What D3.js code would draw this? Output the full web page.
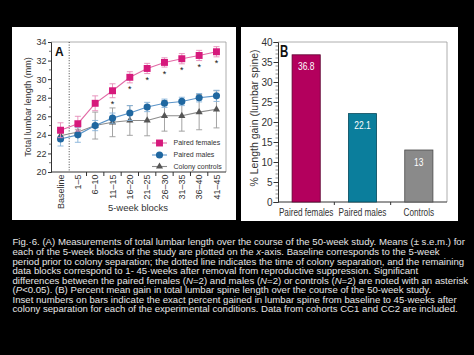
<!DOCTYPE html>
<html><head><meta charset="utf-8">
<script src="https://cdn.jsdelivr.net/npm/d3@7"></script>
<style>
html,body{margin:0;padding:0;background:#000;}
svg{display:block;font-family:"Liberation Sans",Arial,Helvetica,sans-serif;}
</style></head>
<body><svg id="chart" width="474" height="355"></svg>
<script>
// ---------- DATA ----------
const blocks = ["Baseline","1\u20135","6\u201310","11\u201315","16\u201320","21\u201325","26\u201330","31\u201335","36\u201340","41\u201345"];
const femalesMean = [24.5,25.2,27.4,28.75,30.2,31.15,31.8,32.2,32.55,32.95];
const femalesSem  = [0.8,0.8,0.8,0.75,0.6,0.55,0.5,0.55,0.55,0.55];
const malesMean   = [23.55,24.0,25.0,25.8,26.35,27.0,27.4,27.6,28.0,28.2];
const malesSem    = [0.75,0.8,0.55,0.55,0.8,0.5,0.45,0.45,0.45,0.6];
const controlsMean= [23.9,24.3,25.0,25.35,25.55,25.55,26.05,26.05,26.45,26.75];
const controlsSem = [0.3,0.3,1.45,1.55,1.6,1.65,1.65,1.65,1.9,2.0];
const significant = [false,false,false,true,true,true,true,true,true,true];
const yTicksA = [20,22,24,26,28,30,32,34];
const seriesNames = ["Paired females","Paired males","Colony controls"];
const xTitleA = "5-week blocks";
const yTitleA = "Total lumbar length (mm)";

const barGroups = ["Paired females","Paired males","Controls"];
const barValues = [36.8,22.1,13];
const barLabels = ["36.8","22.1","13"];
const yTicksB = [0,5,10,15,20,25,30,35,40];
const yTitleB = "% Length gain (lumbar spine)";

const captionLines = [
  [["Fig.\u00b76. (A) Measurements of total lumbar length over the course of the 50-week study. Means (\u00b1 s.e.m.) for",false]],
  [["each of the 5-week blocks of the study are plotted on the ",false],["x",true],["-axis. Baseline corresponds to the 5-week",false]],
  [["period prior to colony separation; the dotted line indicates the time of colony separation, and the remaining",false]],
  [["data blocks correspond to 1- 45\u00b7weeks after removal from reproductive suppression. Significant",false]],
  [["differences between the paired females (",false],["N",true],["=2) and males (",false],["N",true],["=2) or controls (",false],["N",true],["=2) are noted with an asterisk",false]],
  [["(",false],["P",true],["<0.05). (B) Percent mean gain in total lumbar spine length over the course of the 50-week study.",false]],
  [["Inset numbers on bars indicate the exact percent gained in lumbar spine from baseline to 45\u00b7weeks after",false]],
  [["colony separation for each of the experimental conditions. Data from cohorts CC1 and CC2 are included.",false]]
];

// ---------- STYLE ----------
const femaleCol = {marker:"#d6197c", line:"#e26aa6", err:"#e58ab8"};
const maleCol   = {marker:"#1f67a0", line:"#5b94c8", err:"#86b2d9"};
const ctrlCol   = {marker:"#555555", line:"#8c8c8c", err:"#9a9a9a"};
const barFill   = ["#b3005d","#0b7e9c","#8a8a8a"];
const barStroke = ["#5e0030","#05495b","#4a4a4a"];

const svg = d3.select("#chart");
svg.append("rect").attr("width",474).attr("height",355).attr("fill","#000");

// ---------- PANEL A ----------
svg.append("rect").attr("x",12).attr("y",27).attr("width",224).attr("height",193).attr("fill","#fff");
const xA = d3.scalePoint().domain(blocks).range([51,226]).padding(0.55);
const yA = d3.scaleLinear().domain([20,34]).range([172,42]);
const gA = svg.append("g");

// frame (top, right)
gA.append("path").attr("d",`M51,42H226V172`).attr("fill","none").attr("stroke","#9a9a9a").attr("stroke-width",0.8);

// y axis
const yAxisA = d3.axisLeft(yA).tickValues(yTicksA).tickSize(3).tickPadding(1.5).tickFormat(d3.format("d"));
const gyA = gA.append("g").attr("transform","translate(51,0)").call(yAxisA);
gyA.select(".domain").attr("stroke","#333");
gyA.selectAll(".tick line").attr("stroke","#333");
gyA.selectAll(".tick text").attr("font-size",9).attr("fill","#333");
// minor ticks
gA.append("g").selectAll("line").data(d3.range(21,34,2)).join("line")
  .attr("x1",49).attr("x2",51).attr("y1",d=>yA(d)).attr("y2",d=>yA(d)).attr("stroke","#333").attr("stroke-width",0.7);

// x axis
gA.append("line").attr("x1",51).attr("x2",226).attr("y1",172).attr("y2",172).attr("stroke","#333");
const bounds = blocks.slice(1).map((b,i)=>(xA(blocks[i])+xA(b))/2);
gA.append("g").selectAll("line").data(bounds.slice(1)).join("line")
  .attr("x1",d=>d).attr("x2",d=>d).attr("y1",172).attr("y2",176).attr("stroke","#333");
// dotted separation line
gA.append("line").attr("x1",bounds[0]).attr("x2",bounds[0]).attr("y1",42).attr("y2",172)
  .attr("stroke","#333").attr("stroke-dasharray","1,1.6").attr("stroke-width",0.9);
// x tick labels
gA.append("g").selectAll("text").data(blocks).join("text")
  .attr("transform",d=>`translate(${xA(d)+3.2},174.5) rotate(-90)`)
  .attr("text-anchor","end").attr("font-size",9).attr("fill","#333").text(d=>d);
// titles
gA.append("text").attr("x",138).attr("y",211).attr("text-anchor","middle").attr("font-size",9.5).attr("fill","#333").text(xTitleA);
gA.append("text").attr("transform","translate(30.5,107) rotate(-90)").attr("text-anchor","middle").attr("font-size",9).attr("fill","#333").text(yTitleA);
gA.append("text").attr("x",55).attr("y",55.5).attr("font-size",12).attr("font-weight","bold").attr("fill","#111").text("A");

// series
const series = [
  {name:seriesNames[0], mean:femalesMean, sem:femalesSem, col:femaleCol, sym:d3.symbolSquare, size:48},
  {name:seriesNames[1], mean:malesMean, sem:malesSem, col:maleCol, sym:d3.symbolCircle, size:40},
  {name:seriesNames[2], mean:controlsMean, sem:controlsSem, col:ctrlCol, sym:d3.symbolTriangle, size:22}
];
const drawOrder = [2,1,0];
drawOrder.forEach(si=>{
  const s = series[si];
  const g = gA.append("g");
  // error bars
  blocks.forEach((b,i)=>{
    const x = xA(b), y1 = yA(s.mean[i]+s.sem[i]), y2 = yA(s.mean[i]-s.sem[i]);
    g.append("line").attr("x1",x).attr("x2",x).attr("y1",y1).attr("y2",y2).attr("stroke",s.col.err).attr("stroke-width",0.9);
    [y1,y2].forEach(y=>g.append("line").attr("x1",x-3).attr("x2",x+3).attr("y1",y).attr("y2",y).attr("stroke",s.col.err).attr("stroke-width",0.9));
  });
  g.append("path").datum(s.mean).attr("fill","none").attr("stroke",s.col.line).attr("stroke-width",1.1)
    .attr("d",d3.line().x((d,i)=>xA(blocks[i])).y(d=>yA(d)));
  g.selectAll("path.m").data(s.mean).join("path").attr("class","m")
    .attr("transform",(d,i)=>`translate(${xA(blocks[i])},${yA(d)})`)
    .attr("d",d3.symbol().type(s.sym).size(s.size)).attr("fill",s.col.marker);
});
// asterisks
gA.append("g").selectAll("text").data(blocks.filter((b,i)=>significant[i])).join("text")
  .attr("x",d=>xA(d)).attr("y",d=>{const i=blocks.indexOf(d);return yA(femalesMean[i]-femalesSem[i])+9.5;})
  .attr("text-anchor","middle").attr("font-size",9).attr("fill","#111").text("*");

// legend
const legY = [143,155,166.5];
series.forEach((s,i)=>{
  const g = gA.append("g");
  g.append("line").attr("x1",152).attr("x2",167).attr("y1",legY[i]).attr("y2",legY[i]).attr("stroke",s.col.line).attr("stroke-width",1.1);
  g.append("path").attr("transform",`translate(159.5,${legY[i]})`).attr("d",d3.symbol().type(s.sym).size(s.size)).attr("fill",s.col.marker);
  g.append("text").attr("x",173.5).attr("y",legY[i]+2.4).attr("font-size",7).attr("fill","#333").text(s.name);
});

// ---------- PANEL B ----------
svg.append("rect").attr("x",241).attr("y",27).attr("width",217).attr("height",194).attr("fill","#fff");
const xB = d3.scaleBand().domain(barGroups).range([278,447]).paddingInner(0.5).paddingOuter(0.25);
const yB = d3.scaleLinear().domain([0,40]).range([202,42]);
const gB = svg.append("g");
gB.append("path").attr("d",`M278,42H447V202`).attr("fill","none").attr("stroke","#9a9a9a").attr("stroke-width",0.8);
// minor ticks
gB.append("g").selectAll("line").data(d3.range(0,41,1).filter(d=>d%5!==0)).join("line")
  .attr("x1",275.5).attr("x2",278).attr("y1",d=>yB(d)).attr("y2",d=>yB(d)).attr("stroke","#444").attr("stroke-width",0.6);
const yAxisB = d3.axisLeft(yB).tickValues(yTicksB).tickSize(4.5).tickPadding(1).tickFormat(d3.format("d"));
const gyB = gB.append("g").attr("transform","translate(278,0)").call(yAxisB);
gyB.select(".domain").attr("stroke","#333");
gyB.selectAll(".tick line").attr("stroke","#333");
gyB.selectAll(".tick text").attr("font-size",10).attr("fill","#333");
// x axis
gB.append("line").attr("x1",278).attr("x2",447).attr("y1",202).attr("y2",202).attr("stroke","#333");
const bBounds = barGroups.slice(1).map(g=>xB(g)-xB.step()*xB.paddingInner()/2);
gB.append("g").selectAll("line").data(bBounds).join("line")
  .attr("x1",d=>d).attr("x2",d=>d).attr("y1",202).attr("y2",205).attr("stroke","#333");
// bars
gB.append("g").selectAll("rect").data(barValues).join("rect")
  .attr("x",(d,i)=>xB(barGroups[i])).attr("width",xB.bandwidth())
  .attr("y",d=>yB(d)).attr("height",d=>yB(0)-yB(d))
  .attr("fill",(d,i)=>barFill[i]).attr("stroke",(d,i)=>barStroke[i]).attr("stroke-width",0.8);
gB.append("g").selectAll("text").data(barValues).join("text")
  .attr("transform",(d,i)=>`translate(${xB(barGroups[i])+xB.bandwidth()/2},${yB(d)+15.5}) scale(0.85,1)`)
  .attr("text-anchor","middle").attr("font-size",10).attr("fill","#fff").text((d,i)=>barLabels[i]);
// category labels
gB.append("g").selectAll("text").data(barGroups).join("text")
  .attr("transform",d=>`translate(${xB(d)+xB.bandwidth()/2},215.5) scale(0.78,1)`)
  .attr("text-anchor","middle").attr("font-size",10.5).attr("fill","#333").text(d=>d);
gB.append("text").attr("transform","translate(257.5,118) rotate(-90)").attr("text-anchor","middle")
  .attr("font-size",10.5).attr("fill","#333").text(yTitleB);
gB.append("text").attr("transform","translate(280,57) scale(0.72,1)").attr("font-size",16).attr("font-weight","bold").attr("fill","#111").text("B");

// ---------- CAPTION ----------
const cap = svg.append("g").attr("transform","translate(12.5,0)");
const capTexts = [];
captionLines.forEach((parts,li)=>{
  const t = cap.append("text").attr("x",0).attr("y",245.5+li*9.55).attr("font-size",9.4).attr("fill","#e6e6e6");
  parts.forEach(p=>t.append("tspan").attr("font-style",p[1]?"italic":null).text(p[0]));
  capTexts.push(t);
});
const k = 452/capTexts[0].node().getComputedTextLength();
cap.attr("transform",`translate(12.5,0) scale(${k},1)`);
</script>
</body></html>
